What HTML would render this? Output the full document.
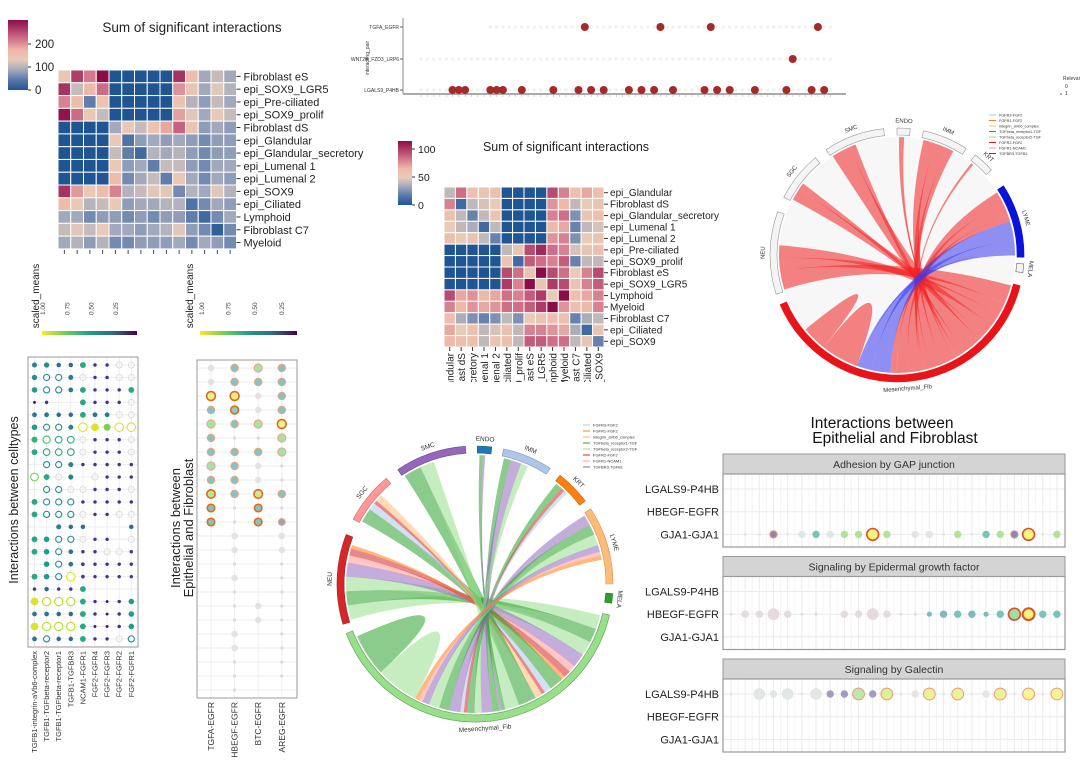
<!DOCTYPE html>
<html><head><meta charset="utf-8"><style>
html,body{margin:0;padding:0;background:#fff;}
svg{display:block;font-family:"Liberation Sans","DejaVu Sans",sans-serif;}
</style></head><body>
<svg id="fig" width="1080" height="763" viewBox="0 0 1080 763">
<defs>
<linearGradient id="heatgrad" x1="0" y1="1" x2="0" y2="0">
<stop offset="0" stop-color="#1f5593"/><stop offset="0.14" stop-color="#5677aa"/><stop offset="0.29" stop-color="#a3a9bc"/><stop offset="0.43" stop-color="#e8cbb8"/><stop offset="0.57" stop-color="#efb8a8"/><stop offset="0.71" stop-color="#d4798e"/><stop offset="0.86" stop-color="#b03f68"/><stop offset="1" stop-color="#8a0d48"/>
</linearGradient>
<linearGradient id="virgrad" x1="0" y1="0" x2="1" y2="0">
<stop offset="0" stop-color="#fde725"/><stop offset="0.25" stop-color="#6ece58"/><stop offset="0.5" stop-color="#1f9e89"/><stop offset="0.75" stop-color="#31688e"/><stop offset="1" stop-color="#440154"/>
</linearGradient>
<clipPath id="hm2clip"><rect x="380" y="340" width="300" height="42"/></clipPath>
</defs>
<rect x="0" y="0" width="1080" height="763" fill="#fff"/>
</svg>
<script>
// ---------------- DATA ----------------
const hm1Rows=["Fibroblast eS","epi_SOX9_LGR5","epi_Pre-ciliated","epi_SOX9_prolif","Fibroblast dS","epi_Glandular","epi_Glandular_secretory","epi_Lumenal 1","epi_Lumenal 2","epi_SOX9","epi_Ciliated","Lymphoid","Fibroblast C7","Myeloid"];
const hm1Values=[
[130,240,200,280,0,0,0,0,0,250,150,80,100,80],
[250,100,160,210,0,0,0,0,0,185,140,80,115,90],
[195,150,45,140,0,0,0,0,0,140,90,70,100,80],
[275,210,130,100,0,0,0,0,0,175,115,80,125,100],
[0,0,0,0,80,125,100,140,170,215,135,70,80,70],
[0,0,0,0,125,35,70,80,70,80,70,55,70,70],
[0,0,0,0,100,45,25,90,80,90,70,55,70,70],
[0,0,0,0,125,70,80,45,100,100,70,55,80,80],
[0,0,0,0,150,55,80,100,45,125,80,55,80,70],
[250,180,125,150,195,90,100,115,115,55,90,80,115,90],
[150,125,90,100,125,70,80,80,90,90,35,55,80,70],
[80,80,55,70,70,55,70,55,70,70,45,25,55,80],
[100,115,100,125,80,80,70,80,90,115,70,55,12,55],
[80,90,70,90,55,55,70,70,70,80,55,80,70,55]];
const hm1Ticks=[0,100,200];
const hm2Rows=["epi_Glandular","Fibroblast dS","epi_Glandular_secretory","epi_Lumenal 1","epi_Lumenal 2","epi_Pre-ciliated","epi_SOX9_prolif","Fibroblast eS","epi_SOX9_LGR5","Lymphoid","Myeloid","Fibroblast C7","epi_Ciliated","epi_SOX9"];
const hm2Values=[
[40,85,60,55,60,0,0,0,0,95,80,60,70,60],
[80,10,40,45,50,0,0,0,0,75,65,40,50,55],
[60,40,20,40,55,0,0,0,0,80,85,25,55,60],
[50,40,35,10,40,0,0,0,0,65,70,20,40,45],
[60,50,55,40,20,0,0,0,0,75,80,25,50,55],
[0,0,0,0,0,40,55,95,105,85,80,45,55,60],
[0,0,0,0,0,55,10,90,85,80,90,20,40,40],
[0,0,0,0,0,95,85,55,115,95,85,50,80,95],
[0,0,0,0,0,100,80,115,55,100,95,55,80,90],
[95,70,75,65,70,85,80,90,100,50,115,60,70,80],
[80,65,75,70,75,85,85,90,100,115,75,60,65,80],
[60,35,25,20,25,40,25,50,55,60,60,20,35,40],
[70,50,60,40,45,60,40,80,80,75,70,35,10,55],
[65,60,60,40,55,60,40,90,90,85,85,40,55,20]];
const hm2Ticks=[0,50,100];

const relRows=["TGFA_EGFR","WNT2B_FZD3_LRP6","LGALS9_P4HB"];
const relHitsTGFA=[26,38,46,63];
const relHitsWNT2B=[59];
const relHitsLGALS9=[5,6,7,11,12,13,16,21,25,27,29,33,35,37,40,45,47,49,53,58,62,64];

const dp1Cols=["TGFB1-integrin-aVb6-complex","TGFB1-TGFbeta-receptor2","TGFB1-TGFbeta-receptor1","TGFB1-TGFBR3","NCAM1-FGFR1","FGF2-FGFR4","FGF2-FGFR3","FGF2-FGFR2","FGF2-FGFR1"];
const dp1Means=[
[.45,.5,.35,.35,.6,.15,.15,-1,-1],
[.5,.5,.5,.45,-1,.15,.15,-1,-1],
[.55,.5,.5,.4,.6,.15,.15,.15,.6],
[.05,.15,null,null,.6,.15,.15,.15,-1],
[.4,.4,.35,.35,.6,.4,.4,-1,-1],
[.55,.5,.5,.45,.95,.95,.8,.95,.95],
[.65,.7,.6,.6,-1,.15,.15,.15,-1],
[.6,.6,.6,.6,-1,.15,.15,.15,-1],
[null,.5,.5,.45,.15,.15,.15,.15,.15],
[.8,.6,-1,.45,null,-1,.15,.15,.15],
[null,.5,.5,-1,-1,.15,.15,.15,-1],
[.6,.5,.5,.5,.15,.15,.15,.15,.15],
[.6,.5,.5,.5,-1,.15,.15,-1,-1],
[null,null,.45,.35,.35,null,null,null,.35],
[.6,.55,.5,.5,-1,.15,.15,null,-1],
[.6,.55,.5,.4,.15,.15,-1,-1,.15],
[null,.55,.5,.4,.2,.15,.15,.15,.15],
[.6,.55,.5,.95,.2,.15,.15,.15,.15],
[.15,.35,.15,.15,.6,null,null,null,null],
[.95,.9,.9,.9,.6,.15,.05,.15,.55],
[.4,.4,.35,.35,.6,.15,.05,.15,.55],
[.95,.9,.9,.9,.6,.05,.05,.15,.55],
[.4,.5,.35,.35,.6,.15,.15,-1,.5]];
const dp1Open=[
[0,0,0,0,0,0,0,0,1],[0,1,1,0,1,0,0,1,1],[0,1,1,0,0,0,0,0,0],[0,0,0,0,0,0,0,0,1],[0,0,0,0,0,0,0,1,1],
[0,1,1,0,1,0,0,1,1],[0,1,1,1,1,0,0,0,1],[0,1,1,1,1,0,0,0,1],[0,1,1,0,0,0,0,0,0],[1,0,1,0,0,1,0,0,0],
[0,1,1,1,1,0,0,0,1],[0,1,1,1,0,0,0,0,0],[0,1,1,1,1,0,0,1,1],[0,0,0,0,0,0,0,0,0],[0,0,1,1,1,0,0,0,1],
[0,0,1,0,0,0,1,1,0],[0,0,1,0,0,0,0,0,0],[0,0,1,1,0,0,0,0,0],[0,0,0,0,0,0,0,0,0],[0,1,1,1,0,0,0,0,0],
[0,0,0,0,0,0,0,0,0],[0,1,1,1,0,0,0,0,0],[0,1,0,0,0,0,0,1,1]];

const dp2Cols=["TGFA-EGFR","HBEGF-EGFR","BTC-EGFR","AREG-EGFR"];
const dp2Means=[
[-1,.5,.75,.5],[-1,.5,.5,.5],[.95,.95,-1,.5],[.5,.6,-1,.5],[.75,.5,.75,.95],[.5,-2,-2,.75],
[.5,.5,.5,.75],[.75,.5,-1,-2],[.5,.5,-1,-2],[.8,.5,.85,.5],[.5,-2,.5,-2],[.5,-2,.5,.3],
[null,-1,null,-1],[null,-1,null,-1],[null,-2,null,-2],[null,-1,null,-2],[null,-2,null,-2],[null,-2,-1,-2],
[null,-2,-1,-2],[null,-1,null,-2],[null,-1,null,-2],[null,-2,null,-2],[null,-2,null,-2],[null,-2,null,null]];
const dp2Rings=[
[0,1,1,1],[0,1,1,1],[2,2,0,1],[1,2,0,1],[1,1,1,2],[1,0,0,1],[1,1,1,1],[1,1,0,0],[1,1,0,0],[2,1,2,1],[2,0,2,0],[2,0,2,1],
[0,0,0,0],[0,0,0,0],[0,0,0,0],[0,0,0,0],[0,0,0,0],[0,0,0,0],[0,0,0,0],[0,0,0,0],[0,0,0,0],[0,0,0,0],[0,0,0,0],[0,0,0,0]];
const scaleTicks=["1.00","0.75","0.50","0.25"];

const facetTitles=["Adhesion by GAP junction","Signaling by Epidermal growth factor","Signaling by Galectin"];
const facetPairs=["LGALS9-P4HB","HBEGF-EGFR","GJA1-GJA1"];
const facetRowIdx=[2,1,0];
const gapMeans=[null,-1,-1,.15,-1,-1,.55,-1,.8,.8,1,.8,null,-1,-1,-1,.8,-1,.55,.8,.15,1,-1,.8];
const gapSizes=[0,1,1,2,1,2,2,2,2,2,3,2,0,2,2,1,2,1,2,2,2,3,1,2];
const gapRings=[0,0,0,1,0,0,0,0,0,0,2,0,0,0,0,0,0,0,0,0,1,2,0,0];
const egfMeans=[-1,-1,-1,-1,-1,-1,-1,null,-1,-1,-1,-1,-1,-1,.5,.5,.55,.5,.5,.55,.75,1,.55,.55];
const egfSizes=[1,2,2,3,2,1,1,0,2,2,3,2,1,1,1.5,2,2,2,1.5,2,3,3,2,2];
const egfRings=[0,0,0,0,0,0,0,0,0,0,0,0,0,0,0,0,0,0,0,0,2,3,0,0];
const galMeans=[-1,null,-1,-1,-1,-1,-1,.15,.15,.8,.15,.9,-1,-1,.95,-1,.95,-1,-1,.95,-1,1,-1,1];
const galSizes=[1,0,3,2,3,1,3,2,2,3,2,3,1,2,3,1,3,1,2,3,1,3,1,3];
const galRings=[0,0,0,0,0,0,0,0,0,1,0,1,0,0,1,0,1,0,0,1,0,1,0,1];

const pairTypes=["FGFR3-FGF2","FGFR1-FGF2","integrin_aVb6_complex","TGFbeta_receptor1-TGF","TGFbeta_receptor2-TGF","FGFR2-FGF2","FGFR1-NCAM1","TGFBR3-TGFB1"];
const chordGroups=["NEU","SGC","SMC","ENDO","IMM","KRT","LYME","MELA","Mesenchymal_Fib"];
const c1From=[8,8,8,8,8,8,8,8,8,8,8,8,8,8,8,8,6,6,6,8,8];
const c1To=[0,0,0,1,1,2,2,3,3,4,4,4,5,6,6,6,8,8,8,8,8];
const c1Val=[3,2,2,2,1,3,1,.4,.4,2,2,1,.4,2,2,1,3,2,.4,3,2];
const c1Type=[5,5,5,5,5,5,5,5,5,5,5,5,5,5,5,5,7,7,7,5,5];
const c2From=[8,8,8,8,8,8,8, 8,8,8,8, 8,8, 8,8, 8,8,8, 8,8,8, 8,8,8,8,8,8, 8,8];
const c2To=  [0,0,0,0,0,0,0, 1,1,1,1, 2,2, 3,3, 4,4,4, 5,5,5, 6,6,6,6,6,6, 8,8];
const c2Val= [2,2,2,2,1,1,.5, 2,1,.5,1, 2.5,2, .5,.3, 1,1.5,1, 1,.5,.5, 1.5,1.5,1.5,1,.5,.6, 3,3];
const c2Type=[4,3,4,7,6,5,1, 3,0,5,2, 3,4, 3,7, 3,7,4, 3,5,0, 7,3,4,7,6,1, 4,3];

// ---------------- HELPERS ----------------
const NS='http://www.w3.org/2000/svg';
const svg=document.getElementById('fig');
function mk(tag,attrs,parent){const e=document.createElementNS(NS,tag);for(const k in attrs)e.setAttribute(k,attrs[k]);(parent||svg).appendChild(e);return e;}
function tx(s,attrs,parent){const e=mk('text',attrs,parent);e.textContent=s;return e;}
function h2r(h){return [parseInt(h.slice(1,3),16),parseInt(h.slice(3,5),16),parseInt(h.slice(5,7),16)];}
function interp(stops,t){t=Math.max(0,Math.min(1,t));const n=stops.length-1;const i=Math.min(n-1,Math.floor(t*n));const f=t*n-i;const a=h2r(stops[i]),b=h2r(stops[i+1]);return a.map((v,k)=>Math.round(v+(b[k]-v)*f));}
function rgb(a){return 'rgb('+a.join(',')+')';}
function mixW(a,al){return a.map(v=>Math.round(255-(255-v)*al));}
const HEAT=['#1f5593','#5677aa','#a3a9bc','#e8cbb8','#efb8a8','#d4798e','#b03f68','#8a0d48'];
const VIR=['#440154','#482878','#3e4989','#31688e','#26828e','#1f9e89','#35b779','#6ece58','#b5de2b','#fde725'];
function g(name,parent){const e=mk('g',{},parent);return e;}

// ---------------- HEATMAP 1 ----------------
(function(){
 const G=g('heatmap-all-celltypes');
 const x0=58,y0=70,cw=12.75,ch=12.78,vmax=280;
 const t=tx('Sum of significant interactions',{x:192,y:32,'font-size':13.5,'text-anchor':'middle',fill:'#222'},G);
 
 const cb=mk('rect',{x:8,y:20,width:20,height:70,fill:'url(#heatgrad)'},G);
 
 const cbY=v=>90-v*0.23;
 hm1Ticks.forEach(v=>{mk('line',{x1:28,x2:31,y1:cbY(v),y2:cbY(v),stroke:'#333'},G);
  const l=tx(String(v),{x:35,y:cbY(v)+4,'font-size':11.5,fill:'#222'},G);
  });
 hm1Values.forEach((row,i)=>{row.forEach((v,j)=>{
  const r=mk('rect',{x:x0+j*cw,y:y0+i*ch,width:cw,height:ch,fill:rgb(interp(HEAT,v/vmax)),stroke:'#fff','stroke-width':1},G);
  });
  mk('line',{x1:x0+14*cw,x2:x0+14*cw+4,y1:y0+(i+.5)*ch,y2:y0+(i+.5)*ch,stroke:'#333'},G);
  const l=tx(hm1Rows[i],{x:x0+14*cw+7,y:y0+(i+.5)*ch+4,'font-size':11,fill:'#222'},G);
  });
 for(let j=0;j<14;j++)mk('line',{x1:x0+(j+.5)*cw,x2:x0+(j+.5)*cw,y1:y0+14*ch+1,y2:y0+14*ch+5,stroke:'#444'},G);
})();

// ---------------- HEATMAP 2 ----------------
(function(){
 const G=g('heatmap-epithelial-fibroblast');
 const x0=444,y0=187,cw=11.43,ch=11.43,vmax=115;
 const t=tx('Sum of significant interactions',{x:566,y:151,'font-size':12.5,'text-anchor':'middle',fill:'#222'},G);
 
 const cb=mk('rect',{x:398,y:141,width:14,height:64,fill:'url(#heatgrad)'},G);
 
 const cbY=v=>205-v*0.56;
 hm2Ticks.forEach(v=>{mk('line',{x1:412,x2:415,y1:cbY(v),y2:cbY(v),stroke:'#333'},G);
  const l=tx(String(v),{x:418,y:cbY(v)+4,'font-size':10.5,fill:'#222'},G);
  });
 hm2Values.forEach((row,i)=>{row.forEach((v,j)=>{
  const r=mk('rect',{x:x0+j*cw,y:y0+i*ch,width:cw,height:ch,fill:rgb(interp(HEAT,v/vmax)),stroke:'#fff','stroke-width':1},G);
  });
  mk('line',{x1:x0+14*cw,x2:x0+14*cw+4,y1:y0+(i+.5)*ch,y2:y0+(i+.5)*ch,stroke:'#333'},G);
  const l=tx(hm2Rows[i],{x:x0+14*cw+6,y:y0+(i+.5)*ch+3.5,'font-size':10,fill:'#222'},G);
  });
 const C=mk('g',{'clip-path':'url(#hm2clip)'},G);
 hm2Rows.forEach((n,j)=>{const x=x0+(j+.5)*cw;
  mk('line',{x1:x,x2:x,y1:y0+14*ch,y2:y0+14*ch+4,stroke:'#333'},C);
  const l=tx(n,{transform:`translate(${x+4},${y0+14*ch+6}) rotate(-90)`,'text-anchor':'end','font-size':10,fill:'#222'},C);
  });
})();

// ---------------- RELEVANCE DOT PLOT (top) ----------------
(function(){
 const G=g('relevance-dotplot');
 const rowsY=[27,59,90];const colX=i=>421+i*6.3;
 mk('line',{x1:403,x2:403,y1:18,y2:94,stroke:'#888','stroke-width':1},G);
 const base=mk('line',{x1:403,x2:846,y1:94,y2:94,stroke:'#aaa','stroke-width':2},G);
 
 for(let i=0;i<66;i++){mk('line',{x1:colX(i),x2:colX(i),y1:95,y2:97,stroke:'#bbb','stroke-width':.6},G);
  rowsY.forEach((y,k)=>{if(k===0&&i<11)return;mk('circle',{cx:colX(i),cy:y,r:1.8,fill:'#f2f2f2'},G);});}
 relRows.forEach((n,k)=>{mk('line',{x1:400,x2:403,y1:rowsY[k],y2:rowsY[k],stroke:'#666'},G);
  const l=tx(n,{x:399,y:rowsY[k]+2,'font-size':5,'text-anchor':'end',fill:'#333'},G);
  });
 const yl=tx('interacting_pair',{transform:'translate(369,58) rotate(-90)','font-size':5,'text-anchor':'middle',fill:'#333'},G);
 
 [[relHitsTGFA,0],[relHitsWNT2B,1],[relHitsLGALS9,2]].forEach(([arr,k])=>arr.forEach(i=>{
  const c=mk('circle',{cx:colX(i),cy:rowsY[k],r:4,fill:'#a52a2a'},G);
  }));
 const lg=tx('Relevance',{x:1063,y:80,'font-size':5,fill:'#333'},G);
 
 tx('0',{x:1065,y:88,'font-size':5,fill:'#333'},G);
 tx('1',{x:1065,y:95,'font-size':5,fill:'#333'},G);
 mk('circle',{cx:1061,cy:94,r:.8,fill:'#555'},G);
})();

// ---------------- DOT PLOT 1 ----------------
(function(){
 const G=g('dotplot-celltypes');
 const t=tx('scaled_means',{transform:'translate(39,296) rotate(-90)','font-size':10,'text-anchor':'middle',fill:'#222'},G);
 
 const cb=mk('rect',{x:42,y:331,width:95,height:4,fill:'url(#virgrad)'},G);
 
 scaleTicks.forEach((s,i)=>{const x=42+i*24.3;tx(s,{transform:`translate(${x+3},315) rotate(-90)`,'font-size':6.5,fill:'#444'},G);});
 const x0=28,x1=138,y0=357,y1=647;
 const colX=j=>34.5+j*12.1, rowY=i=>365+i*12.45;
 for(let j=0;j<9;j++)mk('line',{x1:colX(j),x2:colX(j),y1:y0,y2:y1,stroke:'#eee'},G);
 for(let i=0;i<23;i++)mk('line',{x1:x0,x2:x1,y1:rowY(i),y2:rowY(i),stroke:'#eee'},G);
 const box=mk('rect',{x:x0,y:y0,width:x1-x0,height:y1-y0,fill:'none',stroke:'#999','stroke-width':1},G);
 
 dp1Means.forEach((row,i)=>row.forEach((m,j)=>{if(m===null)return;let c;
  if(m<0){c=mk('circle',{cx:colX(j),cy:rowY(i),r:3,fill:'none',stroke:'#ddd','stroke-width':1},G);}
  else{const col=rgb(interp(VIR,m));const r=1.3+2.7*m;
   c=dp1Open[i][j]?mk('circle',{cx:colX(j),cy:rowY(i),r:r+.4,fill:'#fff',stroke:col,'stroke-width':1.1},G):mk('circle',{cx:colX(j),cy:rowY(i),r:r,fill:col},G);}
  }));
 dp1Cols.forEach((n,j)=>{const l=tx(n,{transform:`translate(${colX(j)+2.5},651) rotate(-90)`,'font-size':7.5,'text-anchor':'end',fill:'#333'},G);
  });
 const yt=tx('Interactions between celltypes',{transform:'translate(18,500) rotate(-90)','font-size':12.5,'text-anchor':'middle',fill:'#222'},G);
 
})();

// ---------------- DOT PLOT 2 ----------------
(function(){
 const G=g('dotplot-epithelial-fibroblast');
 const t=tx('scaled_means',{transform:'translate(193,296) rotate(-90)','font-size':10,'text-anchor':'middle',fill:'#222'},G);
 
 const cb=mk('rect',{x:200,y:331,width:97,height:4,fill:'url(#virgrad)'},G);
 
 scaleTicks.forEach((s,i)=>{const x=201+i*26.6;tx(s,{transform:`translate(${x+3},315) rotate(-90)`,'font-size':6.5,fill:'#444'},G);});
 const x0=197,x1=297,y0=360,y1=698;
 const colX=j=>211+j*23.6, rowY=i=>368+i*14;
 for(let j=0;j<4;j++)mk('line',{x1:colX(j),x2:colX(j),y1:y0,y2:y1,stroke:'#eee'},G);
 for(let i=0;i<24;i++)mk('line',{x1:x0,x2:x1,y1:rowY(i),y2:rowY(i),stroke:'#eee'},G);
 const box=mk('rect',{x:x0,y:y0,width:x1-x0,height:y1-y0,fill:'none',stroke:'#999','stroke-width':1},G);
 
 dp2Means.forEach((row,i)=>row.forEach((m,j)=>{if(m===null)return;let c;
  if(m===-1)c=mk('circle',{cx:colX(j),cy:rowY(i),r:3.2,fill:'#e6e0e4'},G);
  else if(m===-2)c=mk('circle',{cx:colX(j),cy:rowY(i),r:1.6,fill:'#e0d8dc'},G);
  else{const ring=dp2Rings[i][j];const col=rgb(mixW(interp(VIR,m),.55));
   c=mk('circle',{cx:colX(j),cy:rowY(i),r:3+1.5*m,fill:col,stroke:ring===2?'#e0691f':ring===1?'#eba581':'none','stroke-width':ring===2?1.6:1},G);}
  }));
 dp2Cols.forEach((n,j)=>{const l=tx(n,{transform:`translate(${colX(j)+3},702) rotate(-90)`,'font-size':8.5,'text-anchor':'end',fill:'#333'},G);
  });
 const yt=tx('Interactions between',{transform:'translate(180,528) rotate(-90)','font-size':13,'text-anchor':'middle',fill:'#222'},G);
 
 tx('Epithelial and Fibroblast',{transform:'translate(193,528) rotate(-90)','font-size':13,'text-anchor':'middle',fill:'#222'},G);
})();

// ---------------- CHORDS ----------------
function pol(cx,cy,r,d){const a=d*Math.PI/180;return [(cx+r*Math.sin(a)).toFixed(1),(cy-r*Math.cos(a)).toFixed(1)];}
function ringPath(cx,cy,r1,r2,a1,a2){const p1=pol(cx,cy,r2,a1),p2=pol(cx,cy,r2,a2),p3=pol(cx,cy,r1,a2),p4=pol(cx,cy,r1,a1);const L=(a2-a1)>180?1:0;
 return `M${p1}A${r2},${r2} 0 ${L} 1 ${p2}L${p3}A${r1},${r1} 0 ${L} 0 ${p4}Z`;}
function ribbonPath(cx,cy,r,a1,a2,b1,b2){const s1=pol(cx,cy,r,a1),s2=pol(cx,cy,r,a2),t1=pol(cx,cy,r,b1),t2=pol(cx,cy,r,b2);
 const k=0.3*r;
 const c1=pol(cx,cy,k,a2),c2=pol(cx,cy,k,b1),c3=pol(cx,cy,k,b2),c4=pol(cx,cy,k,a1);
 return `M${s1}A${r},${r} 0 0 1 ${s2}C${c1} ${c2} ${t1}A${r},${r} 0 0 1 ${t2}C${c3} ${c4} ${s1}Z`;}
function chord(opt){
 const G=g(opt.name);
 const {cx,cy,r,spans,from,to,val,type,colors,arcFill,arcStroke,unit,fs}=opt;
 if(opt.bg)mk('circle',{cx,cy,r:r-2,fill:'#f7f7f7'},G);
 const ptr=spans.map(s=>s[0]+1);
 from.forEach((f,k)=>{const w=val[k]*unit;const a1=ptr[f];ptr[f]+=w;const b1=ptr[to[k]];ptr[to[k]]+=w;
  const p=mk('path',{d:ribbonPath(cx,cy,r-2,a1,a1+w,b1,b1+w),fill:colors[type[k]],'fill-opacity':.55,stroke:'none'},G);
  });
 chordGroups.forEach((n,i)=>{const [a1,a2]=spans[i];
  const p=mk('path',{d:ringPath(cx,cy,r,r+7,a1,a2),fill:arcFill[i],stroke:arcStroke[i],'stroke-width':.6},G);
  
  const m=(a1+a2)/2;const [x,y]=pol(cx,cy,r+14,m);const rot=m>130&&m<230?m-180:m;
  const l=tx(n,{transform:`translate(${x},${y}) rotate(${rot})`,'font-size':fs,'text-anchor':'middle','dominant-baseline':'middle',fill:'#333'},G);
  });
 opt.legendCols.forEach((c,i)=>{const y=opt.ly+i*opt.lstep;
  mk('line',{x1:opt.lx,x2:opt.lx+7,y1:y,y2:y,stroke:c,'stroke-width':1},G);
  const l=tx(pairTypes[i],{x:opt.lx+10,y:y+1.5,'font-size':opt.lfs,fill:'#333'},G);
  });
}
const c2Colors=['#aec7e8','#ff7f0e','#ffbb78','#2ca02c','#98df8a','#d62728','#ff9896','#9467bd'];
chord({name:'chord-diagram-red-blue',cx:897,cy:255,r:120,bg:true,
 spans:[[-108,-70],[-63,-40],[-34,-6],[0,6],[12,33],[38,48],[57,91],[94,98],[104,247]],
 from:c1From,to:c1To,val:c1Val,type:c1Type,unit:3.1,fs:6,
 colors:['#aec7e8','#ff7f0e','#ffbb78','#2ca02c','#98df8a','#f02020','#ff9896','#3b3bf0'],
 arcFill:['#f4f4f4','#f4f4f4','#f4f4f4','#f4f4f4','#f4f4f4','#f4f4f4','#0a14d8','#f4f4f4','#e8141a'],
 arcStroke:['#999','#999','#999','#999','#999','#999','#0a14d8','#666','#e8141a'],
 legendCols:c2Colors.map((c,i)=>i===5?'#e8141a':i===7?'#3b3bf0':c),lx:989,ly:115,lstep:5.5,lfs:3.8});
chord({name:'chord-diagram-multicolor',cx:475,cy:584,r:131,bg:false,
 spans:[[-107,-69],[-62,-40],[-34,-4],[1,7],[12,33],[38,53],[57,90],[94,98],[103,249]],
 from:c2From,to:c2To,val:c2Val,type:c2Type,unit:3.2,fs:6.5,colors:c2Colors,
 arcFill:['#d62728','#ff9896','#9467bd','#1f77b4','#aec7e8','#ff7f0e','#ffbb78','#2ca02c','#98df8a'],
 arcStroke:['#a01d1d','#d06b6a','#6b4a8a','#175a89','#7e97b5','#c45f08','#d4904f','#1f7a1f','#5f9a55'],
 legendCols:c2Colors,lx:583,ly:425,lstep:6,lfs:4});

// ---------------- FACET PLOT ----------------
(function(){
 const G=g('facet-dotplot-epithelial-fibroblast');
 const t=tx('Interactions between',{x:882,y:428,'font-size':15.5,'text-anchor':'middle',fill:'#111'},G);
 
 tx('Epithelial and Fibroblast',{x:895,y:443,'font-size':15.5,'text-anchor':'middle',fill:'#111'},G);
 const x0=723,x1=1065;const colX=j=>731+j*14.17;
 const panels=[[gapMeans,gapSizes,gapRings],[egfMeans,egfSizes,egfRings],[galMeans,galSizes,galRings]];
 panels.forEach((P,p)=>{const top=454+p*102.5;const bTop=top+20,bBot=top+93;const rowY=k=>bTop+15+k*22.7;
  const s=mk('rect',{x:x0,y:top,width:x1-x0,height:20,fill:'#d4d4d4',stroke:'#999','stroke-width':1},G);
  
  tx(facetTitles[p],{x:(x0+x1)/2,y:top+14,'font-size':10.5,'text-anchor':'middle',fill:'#333'},G);
  for(let j=0;j<24;j++)mk('line',{x1:colX(j),x2:colX(j),y1:bTop,y2:bBot,stroke:'#ebebeb'},G);
  for(let j=0;j<23;j++)mk('line',{x1:colX(j)+7.08,x2:colX(j)+7.08,y1:bTop,y2:bBot,stroke:'#f5f5f5'},G);
  facetPairs.forEach((n,k)=>{mk('line',{x1:x0,x2:x1,y1:rowY(k),y2:rowY(k),stroke:'#ebebeb'},G);
   const l=tx(n,{x:719,y:rowY(k)+4,'font-size':11,'text-anchor':'end',fill:'#222'},G);
   });
  const y=rowY(facetRowIdx[p]);
  P[0].forEach((m,j)=>{if(m===null||P[1][j]===0)return;const sz=P[1][j];const r=1.5+(sz-1)*2.2;let fill;
   if(m<0)fill=p===1?'#e4dbe0':'#e2e6e6';else fill=rgb(mixW(interp(VIR,m),p===2?.5:.6));
   const ring=P[2][j];
   const c=mk('circle',{cx:colX(j),cy:y,r:r,fill:fill,stroke:ring?(ring>=2?'#d9502a':'#e59a7e'):'none','stroke-width':ring>=3?2:ring===2?1.6:1},G);
   });
  const b=mk('rect',{x:x0,y:bTop,width:x1-x0,height:bBot-bTop,fill:'none',stroke:'#999','stroke-width':1.2},G);
  });
})();
</script>
</body></html>
